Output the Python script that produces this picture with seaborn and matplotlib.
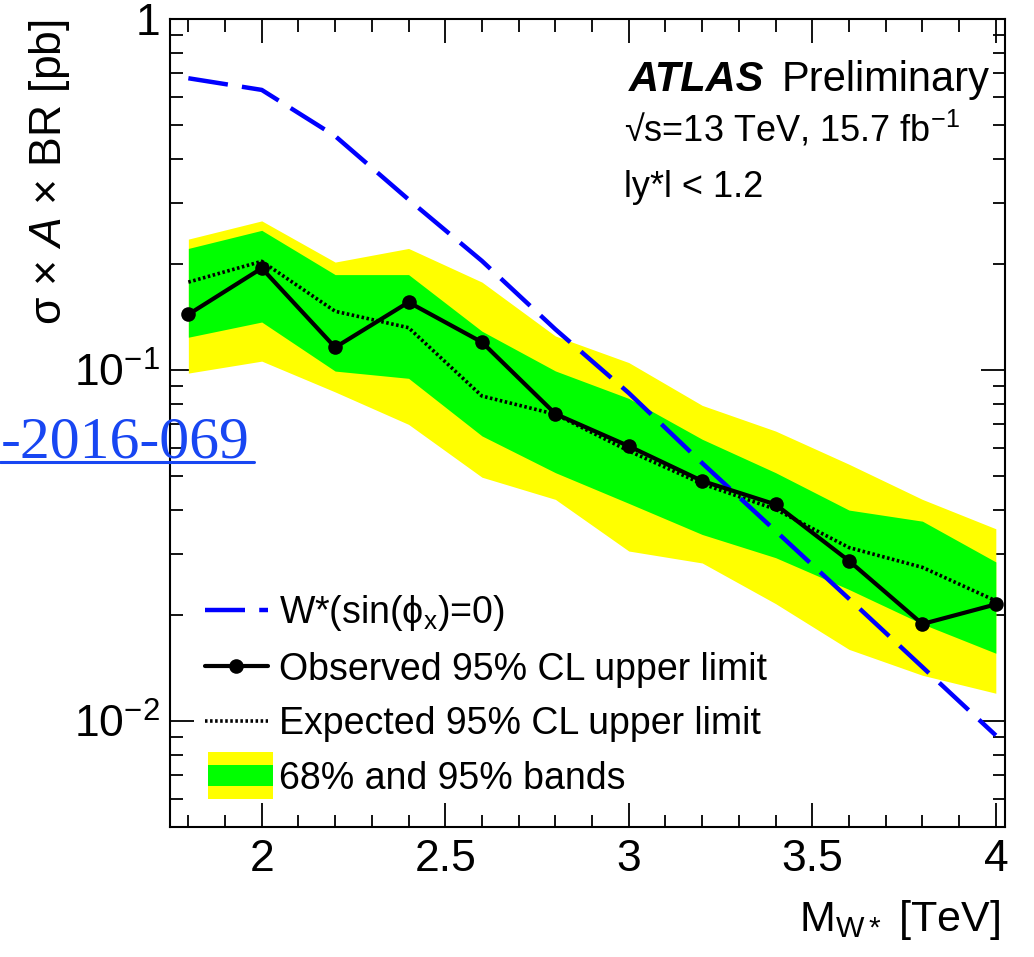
import matplotlib
matplotlib.use("Agg")
import matplotlib.pyplot as plt
import seaborn as sns
import numpy as np
import pandas as pd
from matplotlib.lines import Line2D
from matplotlib.patches import Rectangle, Patch
from matplotlib.legend_handler import HandlerBase
from matplotlib.ticker import FixedLocator, MultipleLocator, LogLocator, NullFormatter

# ---- data ----
mass = [1.8, 2.0, 2.2, 2.4, 2.6, 2.8, 3.0, 3.2, 3.4, 3.6, 3.8, 4.0]
theory = [0.678, 0.628, 0.464, 0.306, 0.2045, 0.1306, 0.0860, 0.0543, 0.0348, 0.0223, 0.01425, 0.0091]
observed = [0.144, 0.195, 0.116, 0.156, 0.120, 0.075, 0.0607, 0.0483, 0.0414, 0.0286, 0.0189, 0.0215]
expected = [0.178, 0.204, 0.147, 0.132, 0.0843, 0.0748, 0.0588, 0.0474, 0.0401, 0.0312, 0.0274, 0.0220]
green_hi = [0.222, 0.250, 0.187, 0.187, 0.129, 0.0994, 0.0830, 0.0635, 0.0510, 0.0399, 0.0371, 0.0284]
green_lo = [0.124, 0.137, 0.0993, 0.0947, 0.0649, 0.0510, 0.0417, 0.0340, 0.0292, 0.0237, 0.0189, 0.0156]
yellow_hi = [0.236, 0.266, 0.203, 0.222, 0.178, 0.125, 0.105, 0.0793, 0.067, 0.0539, 0.0428, 0.0353]
yellow_lo = [0.098, 0.106, 0.0866, 0.070, 0.0495, 0.0428, 0.0305, 0.0282, 0.0216, 0.0160, 0.0135, 0.0120]

x_ticks = [2, 2.5, 3, 3.5, 4]
x_ticklabels = ["2", "2.5", "3", "3.5", "4"]
y_ticks = [0.01, 0.1, 1]
y_ticklabels = [r"$\mathregular{10^{-2}}$", r"$\mathregular{10^{-1}}$", "1"]

legend_labels = [r"W*(sin(ϕ$_{\mathregular{x}}$)=0)",
                 "Observed 95% CL upper limit",
                 "Expected 95% CL upper limit",
                 "68% and 95% bands"]

# ---- style ----
sns.set_theme(style="ticks")
plt.rcParams["font.family"] = ["Liberation Sans", "DejaVu Sans"]
plt.rcParams["mathtext.fontset"] = "custom"
plt.rcParams["mathtext.rm"] = "Liberation Sans"
plt.rcParams["mathtext.it"] = "Liberation Sans:italic"
plt.rcParams["mathtext.bf"] = "Liberation Sans:bold"
plt.rcParams["axes.linewidth"] = 1.5
for key in ["text.color", "axes.labelcolor", "xtick.color", "ytick.color", "axes.edgecolor"]:
    plt.rcParams[key] = "black"

fig = plt.figure(figsize=(10.34, 9.57), dpi=100)
ax = fig.add_axes([170 / 1034, 1 - 826.7 / 957, 835 / 1034, 807.7 / 957])

df = pd.DataFrame({"mass": mass, "theory": theory, "observed": observed, "expected": expected})

# bands
ax.fill_between(mass, yellow_lo, yellow_hi, color="#ffff00", lw=0, zorder=1)
ax.fill_between(mass, green_lo, green_hi, color="#00ff00", lw=0, zorder=2)

dot_style = (0, (0.7, 0.7))
dash_style = (0, (9, 3.2))

# expected (dotted)
sns.lineplot(data=df, x="mass", y="expected", ax=ax, color="black", lw=2.6,
             linestyle=dot_style, zorder=3)
# observed
sns.lineplot(data=df, x="mass", y="observed", ax=ax, color="black", lw=3.0,
             marker="o", markersize=10.5, markeredgewidth=0, zorder=5)
# theory (blue dashed)
sns.lineplot(data=df, x="mass", y="theory", ax=ax, color="#0000ff", lw=3.2,
             linestyle=dash_style, zorder=4)

ax.set_yscale("log")
ax.set_xlim(1.75, 4.025)
ax.set_ylim(0.005, 1.0)

ax.xaxis.set_major_locator(FixedLocator(x_ticks))
ax.set_xticklabels(x_ticklabels)
ax.xaxis.set_minor_locator(MultipleLocator(0.1))
ax.yaxis.set_major_locator(FixedLocator(y_ticks))
ax.set_yticklabels(y_ticklabels)
ax.yaxis.set_minor_locator(LogLocator(base=10, subs=np.arange(2, 10) * 1.0, numticks=20))
ax.yaxis.set_minor_formatter(NullFormatter())

ax.tick_params(which="both", direction="in", top=True, right=True, color="black",
               labelcolor="black", width=1.3)
ax.tick_params(which="major", length=17, labelsize=32)
ax.tick_params(which="minor", length=9)
ax.tick_params(axis="x", which="major", pad=9)
ax.tick_params(axis="y", which="major", pad=7)
for s in ax.spines.values():
    s.set_color("black")
    s.set_linewidth(1.5)
ax.grid(False)

# axis labels
ax.set_xlabel(r"M$_{\mathregular{W*}}$ [TeV]", fontsize=31, ha="right", va="top", color="black")
ax.xaxis.set_label_coords((1000 - 170) / 835, -(898 - 826.7) / 807.7)
ax.set_ylabel(r"σ × $\mathit{A}$ × BR [pb]", fontsize=32, ha="right", va="center", color="black")
ax.yaxis.set_label_coords((50 - 170) / 835, 1.0)

# ATLAS labels
def fx(px):
    return (px - 170) / 835

def fy(py):
    return (826.7 - py) / 807.7

ax.text(fx(764), fy(91), "ATLAS", transform=ax.transAxes, fontsize=30,
        fontweight="bold", fontstyle="italic", ha="right", va="baseline", color="black")
ax.text(fx(782), fy(91), "Preliminary", transform=ax.transAxes, fontsize=30,
        ha="left", va="baseline", color="black")
ax.text(fx(624), fy(141), r"√s=13 TeV, 15.7 fb$^{\mathregular{-1}}$", transform=ax.transAxes,
        fontsize=26, ha="left", va="baseline", color="black")
ax.text(fx(624), fy(197), "ly*l < 1.2", transform=ax.transAxes, fontsize=26,
        ha="left", va="baseline", color="black")

# legend
class BandHandler(HandlerBase):
    def create_artists(self, legend, orig_handle, xdescent, ydescent, width, height,
                       fontsize, trans):
        cy = -ydescent + height / 2.0
        outer_h = 34.0
        inner_h = 15.0
        outer = Rectangle((-xdescent + 2, cy - outer_h / 2), width + 2, outer_h,
                          facecolor="#ffff00", edgecolor="none", transform=trans)
        inner = Rectangle((-xdescent + 2, cy - inner_h / 2), width + 2, inner_h,
                          facecolor="#00ff00", edgecolor="none", transform=trans)
        return [outer, inner]

h_theory = Line2D([], [], color="#0000ff", lw=3.2, linestyle=dash_style)
h_obs = Line2D([], [], color="black", lw=3.0, marker="o", markersize=10.5, markeredgewidth=0)
h_exp = Line2D([], [], color="black", lw=2.6, linestyle=dot_style)
h_band = Patch(facecolor="#00ff00")

leg = ax.legend([h_theory, h_obs, h_exp, h_band], legend_labels,
                loc="lower left", bbox_to_anchor=(fx(205), fy(797)),
                frameon=False, fontsize=27, handlelength=1.67, handletextpad=0.3,
                labelspacing=0.5, borderpad=0, borderaxespad=0, numpoints=1,
                handler_map={Patch: BandHandler()})
for t in leg.get_texts():
    t.set_color("black")
leg.set_zorder(10)

# overlaid link text from the source page
link_color = "#1846f2"
fig.text(1 / 1034, 1 - 457 / 957, "-2016-069", fontfamily=["Liberation Serif", "DejaVu Serif"],
         fontsize=43, color=link_color, ha="left", va="baseline")
fig.add_artist(Line2D([0, 254 / 1034], [1 - 461.5 / 957, 1 - 461.5 / 957],
                      transform=fig.transFigure, color=link_color, lw=2.2))

fig.savefig("out.png", dpi=100)
